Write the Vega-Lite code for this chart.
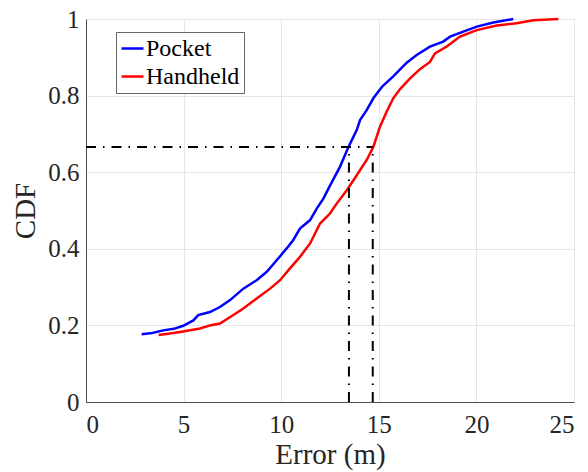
{
  "$schema": "https://vega.github.io/schema/vega-lite/v6.json",
  "width": 488,
  "height": 383,
  "autosize": {"type": "none"},
  "padding": {"left": 86, "top": 19, "right": 14, "bottom": 70},
  "background": "white",
  "config": {
    "font": "Liberation Serif, serif",
    "view": {"stroke": "#c4c4c4", "strokeWidth": 1},
    "axis": {
      "domainColor": "#4d4d4d",
      "domainWidth": 1,
      "gridColor": "#e6e6e6",
      "gridWidth": 1,
      "ticks": false,
      "labelFont": "Liberation Serif, serif",
      "labelFontSize": 25,
      "labelColor": "#262626",
      "titleFont": "Liberation Serif, serif",
      "titleFontSize": 29,
      "titleFontWeight": "normal",
      "titleColor": "#262626"
    },
    "legend": {
      "orient": "none",
      "legendX": 30,
      "legendY": 13,
      "title": null,
      "padding": 4,
      "strokeColor": "#666666",
      "fillColor": "white",
      "labelFont": "Liberation Serif, serif",
      "labelFontSize": 24,
      "labelColor": "#000000",
      "labelOffset": 1,
      "symbolType": "stroke",
      "symbolSize": 484,
      "symbolStrokeWidth": 2.5,
      "rowPadding": 3,
      "cornerRadius": 0
    }
  },
  "datasets": {
    "cdf": [
      {"series": "Pocket", "error": 2.85, "cdf": 0.177},
      {"series": "Pocket", "error": 3.4, "cdf": 0.180},
      {"series": "Pocket", "error": 3.96, "cdf": 0.187},
      {"series": "Pocket", "error": 4.5, "cdf": 0.191},
      {"series": "Pocket", "error": 4.98, "cdf": 0.199},
      {"series": "Pocket", "error": 5.5, "cdf": 0.213},
      {"series": "Pocket", "error": 5.75, "cdf": 0.227},
      {"series": "Pocket", "error": 6.35, "cdf": 0.235},
      {"series": "Pocket", "error": 6.86, "cdf": 0.248},
      {"series": "Pocket", "error": 7.38, "cdf": 0.266},
      {"series": "Pocket", "error": 8.06, "cdf": 0.296},
      {"series": "Pocket", "error": 8.74, "cdf": 0.318},
      {"series": "Pocket", "error": 9.26, "cdf": 0.340},
      {"series": "Pocket", "error": 9.77, "cdf": 0.370},
      {"series": "Pocket", "error": 10.28, "cdf": 0.401},
      {"series": "Pocket", "error": 10.62, "cdf": 0.423},
      {"series": "Pocket", "error": 10.96, "cdf": 0.453},
      {"series": "Pocket", "error": 11.48, "cdf": 0.475},
      {"series": "Pocket", "error": 11.82, "cdf": 0.505},
      {"series": "Pocket", "error": 12.16, "cdf": 0.531},
      {"series": "Pocket", "error": 12.5, "cdf": 0.565},
      {"series": "Pocket", "error": 13.01, "cdf": 0.614},
      {"series": "Pocket", "error": 13.44, "cdf": 0.665},
      {"series": "Pocket", "error": 13.87, "cdf": 0.710},
      {"series": "Pocket", "error": 14.04, "cdf": 0.736},
      {"series": "Pocket", "error": 14.38, "cdf": 0.762},
      {"series": "Pocket", "error": 14.72, "cdf": 0.793},
      {"series": "Pocket", "error": 14.97, "cdf": 0.810},
      {"series": "Pocket", "error": 15.2, "cdf": 0.825},
      {"series": "Pocket", "error": 15.74, "cdf": 0.850},
      {"series": "Pocket", "error": 16.43, "cdf": 0.886},
      {"series": "Pocket", "error": 16.94, "cdf": 0.906},
      {"series": "Pocket", "error": 17.62, "cdf": 0.928},
      {"series": "Pocket", "error": 18.3, "cdf": 0.941},
      {"series": "Pocket", "error": 18.65, "cdf": 0.954},
      {"series": "Pocket", "error": 19.33, "cdf": 0.967},
      {"series": "Pocket", "error": 20.02, "cdf": 0.980},
      {"series": "Pocket", "error": 20.87, "cdf": 0.991},
      {"series": "Pocket", "error": 21.89, "cdf": 1.0},
      {"series": "Handheld", "error": 3.72, "cdf": 0.175},
      {"series": "Handheld", "error": 4.3, "cdf": 0.179},
      {"series": "Handheld", "error": 4.82, "cdf": 0.183},
      {"series": "Handheld", "error": 5.84, "cdf": 0.192},
      {"series": "Handheld", "error": 6.35, "cdf": 0.200},
      {"series": "Handheld", "error": 6.86, "cdf": 0.205},
      {"series": "Handheld", "error": 7.55, "cdf": 0.227},
      {"series": "Handheld", "error": 8.06, "cdf": 0.244},
      {"series": "Handheld", "error": 8.74, "cdf": 0.270},
      {"series": "Handheld", "error": 9.43, "cdf": 0.296},
      {"series": "Handheld", "error": 9.94, "cdf": 0.318},
      {"series": "Handheld", "error": 10.45, "cdf": 0.349},
      {"series": "Handheld", "error": 10.96, "cdf": 0.379},
      {"series": "Handheld", "error": 11.48, "cdf": 0.414},
      {"series": "Handheld", "error": 11.99, "cdf": 0.466},
      {"series": "Handheld", "error": 12.5, "cdf": 0.492},
      {"series": "Handheld", "error": 12.84, "cdf": 0.518},
      {"series": "Handheld", "error": 13.36, "cdf": 0.553},
      {"series": "Handheld", "error": 13.87, "cdf": 0.592},
      {"series": "Handheld", "error": 14.38, "cdf": 0.632},
      {"series": "Handheld", "error": 14.72, "cdf": 0.666},
      {"series": "Handheld", "error": 15.06, "cdf": 0.719},
      {"series": "Handheld", "error": 15.4, "cdf": 0.758},
      {"series": "Handheld", "error": 15.74, "cdf": 0.793},
      {"series": "Handheld", "error": 16.09, "cdf": 0.817},
      {"series": "Handheld", "error": 16.6, "cdf": 0.845},
      {"series": "Handheld", "error": 17.11, "cdf": 0.869},
      {"series": "Handheld", "error": 17.62, "cdf": 0.888},
      {"series": "Handheld", "error": 17.88, "cdf": 0.910},
      {"series": "Handheld", "error": 18.48, "cdf": 0.928},
      {"series": "Handheld", "error": 19.16, "cdf": 0.954},
      {"series": "Handheld", "error": 20.02, "cdf": 0.971},
      {"series": "Handheld", "error": 21.04, "cdf": 0.983},
      {"series": "Handheld", "error": 22.06, "cdf": 0.989},
      {"series": "Handheld", "error": 22.92, "cdf": 0.997},
      {"series": "Handheld", "error": 24.2, "cdf": 1.0}
    ],
    "refs": [
      {"x1": 0, "x2": 14.69, "y1": 0.666, "y2": 0.666},
      {"x1": 13.47, "x2": 13.47, "y1": 0, "y2": 0.666},
      {"x1": 14.69, "x2": 14.69, "y1": 0, "y2": 0.666}
    ]
  },
  "layer": [
    {
      "data": {"name": "cdf"},
      "mark": {"type": "line", "strokeWidth": 2.5, "interpolate": "linear"},
      "encoding": {
        "x": {
          "field": "error", "type": "quantitative",
          "scale": {"domain": [0, 25], "nice": false, "zero": false},
          "axis": {"values": [0, 5, 10, 15, 20, 25], "title": "Error (m)", "labelPadding": 10, "titlePadding": 3}
        },
        "y": {
          "field": "cdf", "type": "quantitative",
          "scale": {"domain": [0, 1], "nice": false},
          "axis": {"values": [0, 0.2, 0.4, 0.6, 0.8, 1], "labelExpr": "datum.value", "title": "CDF", "labelPadding": 7, "titlePadding": 7}
        },
        "color": {
          "field": "series", "type": "nominal",
          "scale": {"domain": ["Pocket", "Handheld"], "range": ["#0000ff", "#ff0000"]}
        },
        "order": {"field": "error", "type": "quantitative"}
      }
    },
    {
      "data": {"name": "refs"},
      "mark": {"type": "rule", "color": "#000000", "strokeWidth": 2, "strokeDash": [10, 7, 1.5, 7]},
      "encoding": {
        "x": {"field": "x1", "type": "quantitative"},
        "x2": {"field": "x2"},
        "y": {"field": "y1", "type": "quantitative"},
        "y2": {"field": "y2"}
      }
    }
  ]
}
